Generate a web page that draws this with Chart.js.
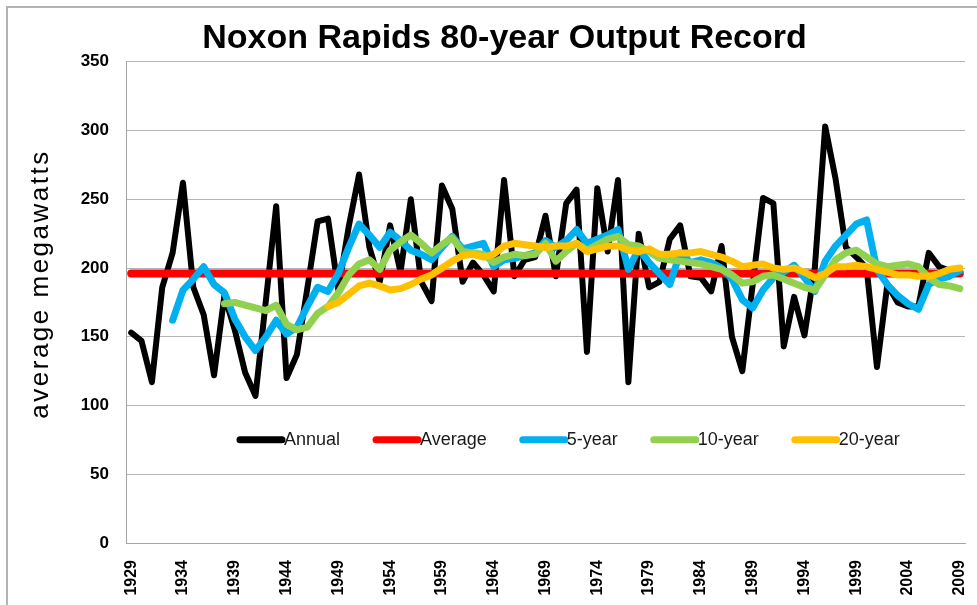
<!DOCTYPE html>
<html lang="en">
<head>
  <meta charset="UTF-8" />
  <title>Noxon Rapids 80-year Output Record</title>
  <script src="https://cdn.jsdelivr.net/npm/chart.js"></script>
  <style>
    body {
      margin: 0;
      background-color: #ffffff;
      font-family: 'Liberation Sans', Arial, sans-serif;
    }
    .chart-box {
      width: 977px;
      height: 605px;
    }
  </style>
</head>
<body>
  <div class="chart-box">
    <canvas id="outputChart" width="977" height="605"></canvas>
  </div>

  <script>
    // years on the category axis
    const years = [];
    for (let y = 1929; y <= 2009; y++) years.push(String(y));

    // annual average megawatts, 1929 - 2009
    const annual = [
      153, 147, 117, 186, 211, 262, 186, 166, 122, 180,   // 1929-1938
      155, 124, 107, 176, 245, 120, 137, 185, 234, 236,   // 1939-1948
      184, 230, 268, 215, 190, 231, 197, 250, 190, 176,   // 1949-1958
      260, 243, 190, 204, 195, 183, 264, 194, 206, 208,   // 1959-1968
      238, 194, 247, 257, 139, 258, 212, 264, 117, 225,   // 1969-1978
      186, 190, 221, 231, 194, 193, 183, 216, 150, 125,   // 1979-1988
      188, 251, 247, 143, 179, 151, 200, 303, 265, 215,   // 1989-1998
      208, 200, 128, 188, 175, 172, 172, 211, 201, 198,   // 1999-2008
      197                                                  // 2009
    ];

    // long-term average (flat line across the whole record)
    const averageValue = 196;
    const averageSpan = ['1929', '2009'];

    // 5-year running average, starts 1933
    const fiveYearStart = 1933;
    const fiveYear = [
      162, 184, 192, 201, 188, 182, 163, 150, 140, 150,   // 1933-1942
      162, 152, 157, 172, 186, 183, 196, 215, 232, 224,   // 1943-1952
      215, 226, 220, 213, 210, 206, 215, 223, 214, 216,   // 1953-1962
      218, 201, 206, 207, 209, 211, 220, 215, 220, 228,   // 1963-1972
      218, 221, 224, 228, 199, 214, 204, 196, 188, 211,   // 1973-1982
      204, 206, 204, 200, 192, 177, 171, 184, 193, 197,   // 1983-1992
      202, 193, 183, 205, 216, 224, 232, 235, 199, 188,   // 1993-2002
      180, 174, 170, 188, 192, 194, 198                   // 2003-2009
    ];

    // 10-year running average, starts 1938
    const tenYearStart = 1938;
    const tenYear = [
      174, 175, 173, 171, 169, 173, 159, 155, 157, 167,   // 1938-1947
      172, 182, 195, 203, 206, 199, 213, 219, 224, 218,   // 1948-1957
      211, 217, 222, 212, 211, 210, 204, 208, 210, 209,   // 1958-1967
      210, 218, 205, 212, 218, 213, 217, 221, 223, 217,   // 1968-1977
      216, 212, 207, 206, 205, 204, 203, 201, 199, 195,   // 1978-1987
      189, 190, 194, 195, 192, 189, 186, 184, 195, 206,   // 1988-1997
      211, 213, 208, 203, 201, 202, 203, 201, 193, 188,   // 1998-2007
      187, 185                                             // 2008-2009
    ];

    // 20-year running average, starts 1948
    const twentyYearStart = 1948;
    const twentyYear = [
      172, 175, 181, 187, 189, 187, 184, 185, 188, 192,   // 1948-1957
      195, 200, 205, 209, 210, 208, 210, 216, 218, 217,   // 1958-1967
      216, 215, 216, 216, 218, 212, 214, 216, 216, 213,   // 1968-1977
      212, 214, 210, 210, 211, 211, 212, 210, 208, 205,   // 1978-1987
      201, 202, 203, 200, 199, 200, 197, 193, 196, 201,   // 1988-1997
      201, 202, 201, 199, 197, 195, 195, 194, 194, 196,   // 1998-2007
      199, 200                                             // 2008-2009
    ];

    function fromYear(start, values) {
      return values.map((v, i) => ({ x: String(start + i), y: v }));
    }

    // frame, rotated axis title and the in-plot legend
    const decorPlugin = {
      id: 'decor',
      beforeDraw(chart) {
        const ctx = chart.ctx;
        ctx.save();
        ctx.fillStyle = '#ffffff';
        ctx.fillRect(0, 0, chart.width, chart.height);
        ctx.strokeStyle = '#b3b3b3';
        ctx.lineWidth = 2;
        ctx.strokeRect(7, 7, chart.width + 20, chart.height + 20);
        ctx.restore();
      },
      afterDraw(chart) {
        const ctx = chart.ctx;
        const area = chart.chartArea;

        // y axis title
        ctx.save();
        ctx.translate(41, 284);
        ctx.rotate(-Math.PI / 2);
        ctx.font = '26px "Liberation Sans", Arial, sans-serif';
        ctx.letterSpacing = '2.5px';
        ctx.fillStyle = '#000';
        ctx.textAlign = 'center';
        ctx.textBaseline = 'middle';
        ctx.fillText('average megawatts', 0, 0);
        ctx.restore();

        // legend inside the plot
        ctx.save();
        ctx.font = '18px "Liberation Sans", Arial, sans-serif';
        ctx.textBaseline = 'middle';
        ctx.lineCap = 'round';
        let x = 240;
        const legendY = area.top + 378;
        chart.data.datasets.forEach(ds => {
          ctx.strokeStyle = ds.borderColor;
          ctx.lineWidth = 7;
          ctx.beginPath();
          ctx.moveTo(x, legendY);
          ctx.lineTo(x + 42, legendY);
          ctx.stroke();
          x += 44;
          ctx.fillStyle = '#1a1a1a';
          ctx.fillText(ds.label, x, legendY);
          x += ctx.measureText(ds.label).width + 36;
        });
        ctx.restore();
      }
    };

    const ctx = document.getElementById('outputChart').getContext('2d');

    new Chart(ctx, {
      type: 'line',
      data: {
        labels: years,
        datasets: [
          {
            label: 'Annual',
            data: annual,
            borderColor: '#000000',
            borderWidth: 6,
            order: 5
          },
          {
            label: 'Average',
            data: averageSpan.map(yr => ({ x: yr, y: averageValue })),
            borderColor: '#ff0000',
            borderWidth: 8,
            order: 4
          },
          {
            label: '5-year',
            data: fromYear(fiveYearStart, fiveYear),
            borderColor: '#00b0f0',
            borderWidth: 7,
            order: 3
          },
          {
            label: '10-year',
            data: fromYear(tenYearStart, tenYear),
            borderColor: '#92d050',
            borderWidth: 7,
            order: 2
          },
          {
            label: '20-year',
            data: fromYear(twentyYearStart, twentyYear),
            borderColor: '#ffc000',
            borderWidth: 7,
            order: 1
          }
        ]
      },
      options: {
        responsive: false,
        animation: false,
        layout: {
          padding: { left: 44, right: 12, top: 0, bottom: 0 }
        },
        elements: {
          point: { radius: 0, hoverRadius: 0 },
          line: {
            tension: 0,
            fill: false,
            borderCapStyle: 'round',
            borderJoinStyle: 'round'
          }
        },
        plugins: {
          legend: { display: false },
          tooltip: { enabled: false },
          title: {
            display: true,
            text: 'Noxon Rapids 80-year Output Record',
            color: '#000',
            font: { family: '"Liberation Sans", Arial, sans-serif', size: 34, weight: 'bold' },
            padding: { top: 18, bottom: 3 }
          }
        },
        scales: {
          x: {
            type: 'category',
            offset: true,
            grid: { display: false, drawTicks: false },
            border: { color: '#a6a6a6', width: 1 },
            ticks: {
              autoSkip: false,
              minRotation: 90,
              maxRotation: 90,
              padding: 17,
              color: '#000',
              font: { family: '"Liberation Sans", Arial, sans-serif', size: 16, weight: 'bold' },
              callback: function (val, i) {
                return (Number(years[i]) - 1929) % 5 === 0 ? years[i] : null;
              }
            },
            afterFit: s => {
              s.height = 62;
              s.paddingLeft = 0;
              s.paddingRight = 0;
            }
          },
          y: {
            min: 0,
            max: 350,
            grid: { color: '#b5b5b5', lineWidth: 1, drawTicks: false },
            border: { color: '#a6a6a6', width: 1 },
            ticks: {
              stepSize: 50,
              padding: 17,
              color: '#000',
              font: { family: '"Liberation Sans", Arial, sans-serif', size: 17, weight: 'bold' }
            },
            afterFit: s => { s.width = 82; }
          }
        }
      },
      plugins: [decorPlugin]
    });
  </script>
</body>
</html>
